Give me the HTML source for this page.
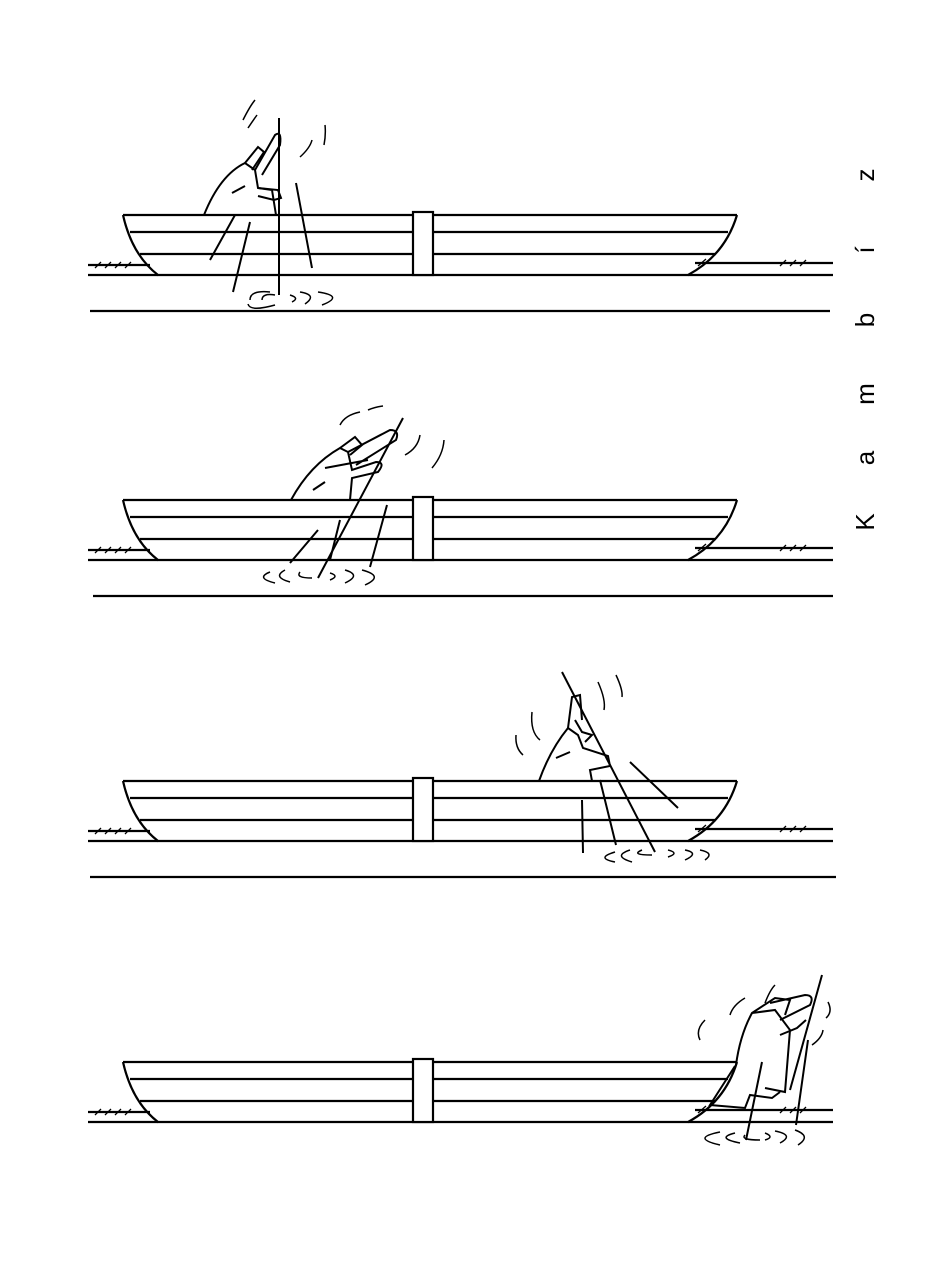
<!DOCTYPE html>
<html><head><meta charset="utf-8"><style>html,body{margin:0;padding:0;background:#fff}svg{display:block}</style></head>
<body>
<svg width="931" height="1280" viewBox="0 0 931 1280" xmlns="http://www.w3.org/2000/svg">
<defs>
<g id="boat" fill="none" stroke="#000" stroke-width="2.2">
  <path d="M123 215 L737 215"/>
  <path d="M130 232 L728 232"/>
  <path d="M140 254 L716 254"/>
  <path d="M123 215 Q132 255 158 275 L688 275 Q725 255 737 215"/>
  <rect x="413" y="212" width="20" height="63" fill="#fff"/>
  <path d="M88 265 L150 265"/>
  <path d="M95 268 l6 -6 M105 268 l6 -6 M115 268 l6 -6 M125 268 l6 -6" stroke-width="1.3"/>
  <path d="M695 263 L833 263"/>
  <path d="M780 266 l6 -6 M790 266 l6 -6 M800 266 l6 -6 M698 266 l8 -7" stroke-width="1.3"/>
  <path d="M88 275 L158 275 M688 275 L833 275"/>
</g>
</defs>

<g fill="none" stroke="#000" stroke-width="2.2">
  <path d="M90 311 L830 311"/>
  <path d="M93 596 L833 596"/>
  <path d="M90 877 L836 877"/>
</g>

<!-- Panel 1 -->
<use href="#boat"/>
<g fill="none" stroke="#000" stroke-width="2">
  <path d="M204 215 Q220 175 245 163 L255 170 L258 188 L272 190 L276 215"/>
  <path d="M245 163 L258 147 L264 152 L252 170"/>
  <path d="M255 170 L275 135 Q282 130 280 145 L262 175"/>
  <path d="M258 188 L278 190 L281 198 L274 200 L258 196"/>
  <path d="M279 118 L279 295"/>
  <path d="M232 193 L245 186" />
  <path d="M235 215 L210 260 M250 222 L233 292 M296 183 L312 268"/>
  <path d="M243 120 Q250 106 255 100 M248 128 Q252 122 257 115 M300 157 Q310 148 312 140 M325 125 Q326 135 324 145" stroke-width="1.5"/>
  <path d="M250 300 Q250 290 270 292 M262 300 Q262 293 275 295 M248 304 Q250 312 275 305 M290 295 Q300 298 292 302 M300 292 Q318 295 305 304 M318 292 Q345 296 322 305" stroke-width="1.5"/>
</g>

<!-- Panel 2 -->
<use href="#boat" transform="translate(0,285)"/>
<g fill="none" stroke="#000" stroke-width="2">
  <path d="M291 500 Q310 465 340 448 L348 452 L352 470 L376 462 Q386 462 378 472 L352 478 L350 500"/>
  <path d="M340 448 L355 437 L362 445 L350 455"/>
  <path d="M348 452 L390 430 Q400 430 396 440 L356 465"/>
  <path d="M325 468 L368 460"/>
  <path d="M403 418 L318 578"/>
  <path d="M313 490 L325 482"/>
  <path d="M318 530 L290 563 M340 520 L330 560 M387 505 L370 567"/>
  <path d="M340 425 Q345 415 360 412 M368 410 Q375 407 383 406 M405 455 Q418 448 420 435 M432 468 Q443 455 444 440" stroke-width="1.5"/>
  <path d="M270 572 Q255 578 275 583 M285 570 Q272 577 290 582 M300 572 Q295 578 312 578 M330 573 Q340 576 330 580 M345 570 Q362 575 345 583 M362 570 Q385 576 365 585" stroke-width="1.5"/>
</g>

<!-- Panel 3 -->
<use href="#boat" transform="translate(0,566)"/>
<g fill="none" stroke="#000" stroke-width="2">
  <path d="M539 781 Q550 750 568 728 L578 735 L583 748 L608 756 L610 766 L590 770 L592 781"/>
  <path d="M568 728 L572 697 L580 695 L582 720"/>
  <path d="M575 720 L582 732 L592 735 L585 742"/>
  <path d="M562 672 L655 852"/>
  <path d="M556 758 L570 752"/>
  <path d="M630 762 L678 808 M600 780 L616 845 M582 800 L583 853"/>
  <path d="M532 712 Q530 732 540 740 M516 735 Q515 748 523 755 M598 682 Q606 700 604 710 M616 675 Q623 690 622 697" stroke-width="1.5"/>
  <path d="M615 852 Q595 858 615 862 M630 850 Q612 856 632 862 M642 850 Q630 855 652 855 M668 850 Q680 853 668 857 M685 850 Q700 853 685 860 M700 850 Q715 853 705 860" stroke-width="1.5"/>
</g>

<!-- Panel 4 -->
<use href="#boat" transform="translate(0,847)"/>
<g fill="none" stroke="#000" stroke-width="2">
  <path d="M736 1065 Q740 1035 752 1013 L775 1010 L790 1030 L785 1092 L765 1088"/>
  <path d="M752 1013 L775 998 L790 1000 L785 1015"/>
  <path d="M770 1003 L805 995 Q815 995 810 1005 L780 1020"/>
  <path d="M780 1035 L797 1028 L806 1020"/>
  <path d="M735 1066 L710 1105 L745 1108 L750 1095 L772 1098 L780 1092"/>
  <path d="M822 975 L790 1090 M808 1040 L796 1125 M762 1062 L746 1140"/>
  <path d="M700 1040 Q695 1030 705 1020 M730 1015 Q733 1005 745 998 M765 1003 Q770 990 775 985 M828 1002 Q833 1012 826 1018 M812 1045 Q822 1038 823 1030" stroke-width="1.5"/>
  <path d="M720 1132 Q690 1138 720 1145 M735 1133 Q715 1138 740 1143 M745 1135 Q740 1140 760 1140 M765 1133 Q775 1137 765 1140 M775 1131 Q795 1135 780 1143 M795 1130 Q812 1136 798 1145" stroke-width="1.5"/>
</g>

<!-- Vertical name -->
<g font-family="Liberation Sans, sans-serif" font-size="26" fill="#000" text-anchor="middle">
  <text transform="translate(874,522) rotate(-90)">K</text>
  <text transform="translate(874,458) rotate(-90)">a</text>
  <text transform="translate(874,394) rotate(-90)">m</text>
  <text transform="translate(874,320) rotate(-90)">b</text>
  <text transform="translate(874,250) rotate(-90)">í</text>
  <text transform="translate(874,175) rotate(-90)">z</text>
</g>
</svg>
</body></html>
